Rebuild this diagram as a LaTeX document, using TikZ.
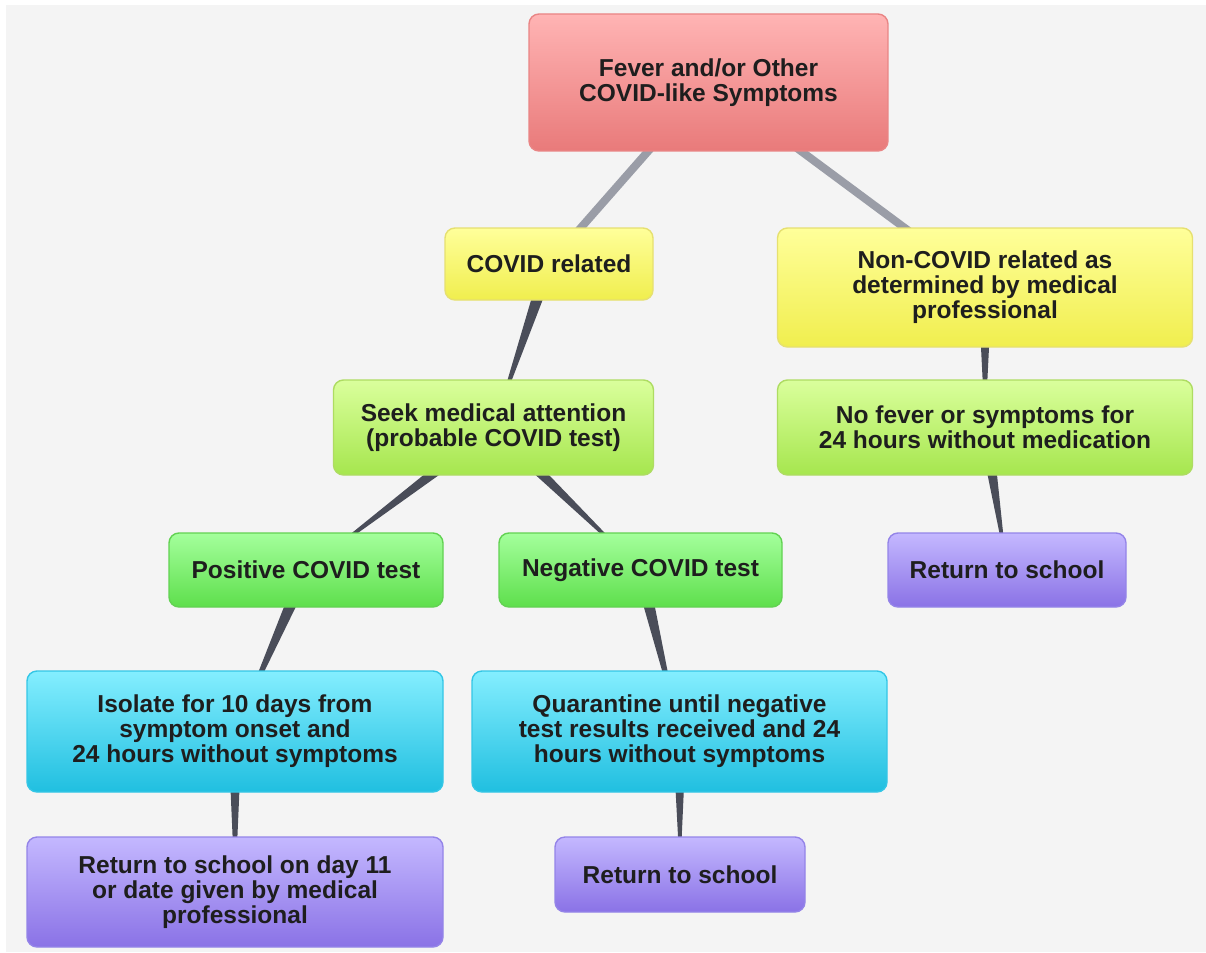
\documentclass[tikz,border=0pt]{standalone}
\usepackage{fontspec}
\setmainfont{Liberation Sans}
\usetikzlibrary{calc}
\pgfdeclarelayer{bg}
\pgfdeclarelayer{conn}
\pgfsetlayers{bg,conn,main}
\definecolor{txt}{HTML}{1E1E1E}
\definecolor{lgrey}{HTML}{9A9DA7}
\definecolor{dgrey}{HTML}{4A4D59}
\definecolor{paper}{HTML}{F4F4F4}
\definecolor{redT}{HTML}{FFB4B4}\definecolor{redB}{HTML}{E97A7A}\definecolor{redD}{HTML}{E98585}
\definecolor{yelT}{HTML}{FFFF9A}\definecolor{yelB}{HTML}{F0EE4E}\definecolor{yelD}{HTML}{E6E070}
\definecolor{lgT}{HTML}{DAFF9C}\definecolor{lgB}{HTML}{A6E64E}\definecolor{lgD}{HTML}{AEDC62}
\definecolor{grT}{HTML}{A4FF9C}\definecolor{grB}{HTML}{5EDF4C}\definecolor{grD}{HTML}{62D252}
\definecolor{cyT}{HTML}{84EEFF}\definecolor{cyB}{HTML}{20BFE0}\definecolor{cyD}{HTML}{34C6E6}
\definecolor{puT}{HTML}{C4B8FF}\definecolor{puB}{HTML}{8A72E6}\definecolor{puD}{HTML}{9484E8}
\tikzset{
  box/.style={rounded corners=10pt, line width=1.4pt, inner sep=0pt, align=center,
    text=txt, font=\fontsize{24.5}{25}\selectfont\bfseries},
  redbox/.style={box, draw=redD, top color=redT, bottom color=redB},
  yelbox/.style={box, draw=yelD, top color=yelT, bottom color=yelB},
  lgbox/.style={box, draw=lgD, top color=lgT, bottom color=lgB},
  grbox/.style={box, draw=grD, top color=grT, bottom color=grB},
  cybox/.style={box, draw=cyD, top color=cyT, bottom color=cyB},
  pubox/.style={box, draw=puD, top color=puT, bottom color=puB},
  thickconn/.style={line width=8pt, draw=lgrey},
  taperfill/.style={fill=dgrey},
}
\newcommand\taperconn[2]{\fill[taperfill] ($(#1.center)!7pt!90:(#2.center)$) -- ($(#1.center)!7pt!-90:(#2.center)$) -- (#2.center) -- cycle;}
\begin{document}
\begin{tikzpicture}[x=1pt,y=-1pt]
\useasboundingbox (0,0) rectangle (1206,952);
\begin{pgfonlayer}{bg}
\fill[white] (0,0) rectangle (1206,952);
\fill[paper] (6,5) rectangle (1206,952);
\end{pgfonlayer}

\node[redbox, minimum width=359pt, minimum height=137pt] (fever) at (708.5,82.5) {Fever and/or Other\\COVID-like Symptoms};
\node[yelbox, minimum width=208pt, minimum height=72pt] (covid) at (549,264) {COVID related};
\node[yelbox, minimum width=415pt, minimum height=119pt] (noncovid) at (985,287.5) {Non-COVID related as\\determined by medical\\professional};
\node[lgbox, minimum width=320pt, minimum height=95pt] (seek) at (493.5,427.5) {Seek medical attention\\(probable COVID test)};
\node[lgbox, minimum width=415pt, minimum height=95pt] (nofever) at (985,427.5) {No fever or symptoms for\\24 hours without medication};
\node[grbox, minimum width=274pt, minimum height=74pt] (pos) at (306,570) {Positive COVID test};
\node[grbox, minimum width=283pt, minimum height=74pt] (neg) at (640.5,570) {Negative COVID test};
\node[pubox, minimum width=238pt, minimum height=74pt] (retR) at (1007,570) {Return to school};
\node[cybox, minimum width=416pt, minimum height=121pt] (iso) at (235,731.5) {Isolate for 10 days from\\symptom onset and\\24 hours without symptoms};
\node[cybox, minimum width=415pt, minimum height=121pt] (quar) at (679.5,731.5) {Quarantine until negative\\test results received and 24\\hours without symptoms};
\node[pubox, minimum width=416pt, minimum height=110pt] (retL) at (235,892) {Return to school on day 11\\or date given by medical\\professional};
\node[pubox, minimum width=250pt, minimum height=75pt] (retM) at (680,874.5) {Return to school};

\begin{pgfonlayer}{conn}
\draw[thickconn] (fever.center) -- (covid.center);
\draw[thickconn] (fever.center) -- (noncovid.center);
\taperconn{covid}{seek}
\taperconn{seek}{pos}
\taperconn{seek}{neg}
\taperconn{pos}{iso}
\taperconn{neg}{quar}
\taperconn{iso}{retL}
\taperconn{quar}{retM}
\taperconn{noncovid}{nofever}
\taperconn{nofever}{retR}
\end{pgfonlayer}
\end{tikzpicture}
\end{document}
